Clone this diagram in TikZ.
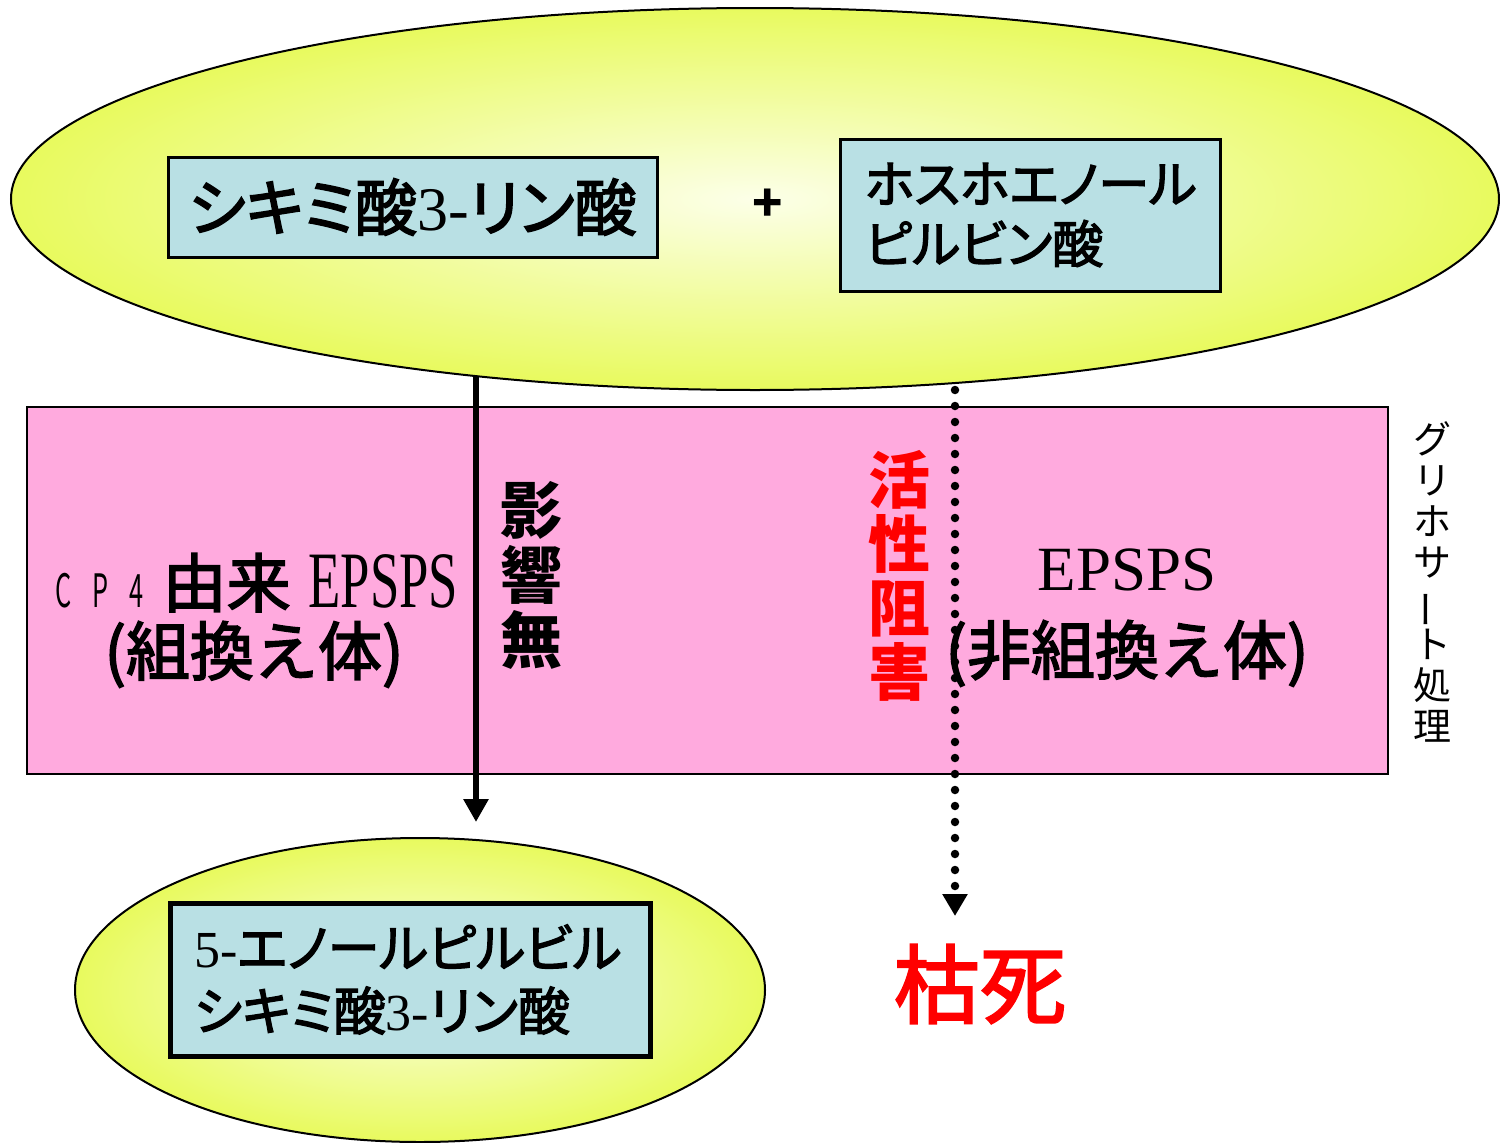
\documentclass[tikz,border=0pt]{standalone}
\usepackage{fontspec}
\setmainfont{Liberation Serif}
\newfontfamily\jp[FakeBold=2.5,RawFeature=+palt]{Noto Sans CJK JP}
\newfontfamily\jpv[FakeBold=2.5]{Noto Sans CJK JP}
\newfontfamily\jpb{Noto Sans CJK JP}
\newfontfamily\jpr{Noto Sans CJK JP}
\usetikzlibrary{shapes.geometric,arrows.meta}
\definecolor{ylw}{RGB}{232,250,94}
\definecolor{ylwc}{RGB}{252,255,232}
\definecolor{lblue}{RGB}{185,224,228}
\definecolor{pnk}{RGB}{255,170,222}
\newcommand{\fs}[2]{\fontsize{#1}{#2}\selectfont}
\begin{document}
\begin{tikzpicture}[x=1pt,y=-1pt,
  ellnode/.style={ellipse, draw=black, line width=2pt, inner color=ylwc, outer color=ylw, inner sep=0pt},
  chem/.style={rectangle, draw=black, line width=3pt, fill=lblue, inner sep=0pt},
  enz/.style={rectangle, draw=black, line width=2pt, fill=pnk, inner sep=0pt},
  lbl/.style={inner sep=0pt},
  vlbl/.style={inner sep=0pt, align=center},
  solidarr/.style={line width=6pt, -{Triangle[width=24pt,length=23pt]}},
  dotarr/.style={line width=8.5pt, line cap=round, dash pattern=on 0pt off 16pt, -{Triangle[width=24pt,length=22pt]}}
]
\useasboundingbox (0,0) rectangle (1500,1143);
\fill[white] (0,0) rectangle (1500,1143);

% top substrate ellipse
\node[ellnode, minimum width=1488pt, minimum height=382pt] (top) at (755,199) {};
\node[chem, minimum width=489pt, minimum height=100pt, font=\jp\fs{62}{62}] (b1) at (412.5,207)
  {シキミ酸{\rmfamily 3-}リン酸};
\node[lbl, font=\jpb\bfseries\fs{50}{50}] (plus) at (768,205) {+};
\node[chem, minimum width=380pt, minimum height=152pt, text width=330pt, align=left, font=\jp\fs{51}{60}] (b2) at (1030,215)
  {\mbox{ホスホエノール}\\\mbox{ピルビン酸}};

% enzyme band
\node[enz, minimum width=1361pt, minimum height=367pt] (enzbox) at (707.5,590.5) {};

\node[lbl, anchor=base] (cp4a) at (257,607)
  {{\jpr\fs{46}{46}\makebox[37pt][l]{\scalebox{0.55}[1]{C}}\makebox[37pt][l]{\scalebox{0.55}[1]{P}}\makebox[33pt][l]{\scalebox{0.55}[1]{4}}}{\jpv\fs{64}{64}由来}\hspace{18pt}{\fs{80}{80}\scalebox{0.66}[1]{EPSPS}}};
\node[lbl, anchor=base] (cp4b) at (254,675) {\jpv\fs{64}{64}(組換え体)};

\node[lbl, anchor=base] (epa) at (1127,590) {\fs{63}{63}EPSPS};
\node[lbl, anchor=base] (epb) at (1127,674) {\jpv\fs{64}{64}(非組換え体)};

\node[vlbl, font=\jpb\bfseries\fs{62}{65}] (eik) at (531,575) {影\\響\\無};
\node[vlbl, text=red, font=\jpb\bfseries\fs{62}{64}] (kas) at (899,576) {活\\性\\阻\\害};
\node[vlbl, font=\jpr\fs{38}{41}] (gly) at (1432,582)
  {グ\\リ\\ホ\\サ\\\rotatebox[origin=c]{90}{ー}\\ト\\処\\理};

% product ellipse
\node[ellnode, minimum width=690pt, minimum height=304pt] (bot) at (420,990) {};
\node[chem, line width=5pt, minimum width=480pt, minimum height=153pt, text width=432pt, align=left, font=\jp\fs{52}{63}] (b3) at (410,979.5)
  {\mbox{{\rmfamily 5-}エノールピルビル}\\\mbox{シキミ酸{\rmfamily 3-}リン酸}};

\node[lbl, text=red, font=\jpv\fs{86}{86}] (death) at (980,984) {枯死};

% connectors
\coordinate (s1) at (476,376);
\coordinate (e1) at (476,822);
\draw[solidarr] (s1) -- (e1);
\coordinate (s2) at (955,390);
\coordinate (e2) at (955,916);
\draw[dotarr] (s2) -- (e2);
\end{tikzpicture}
\end{document}
